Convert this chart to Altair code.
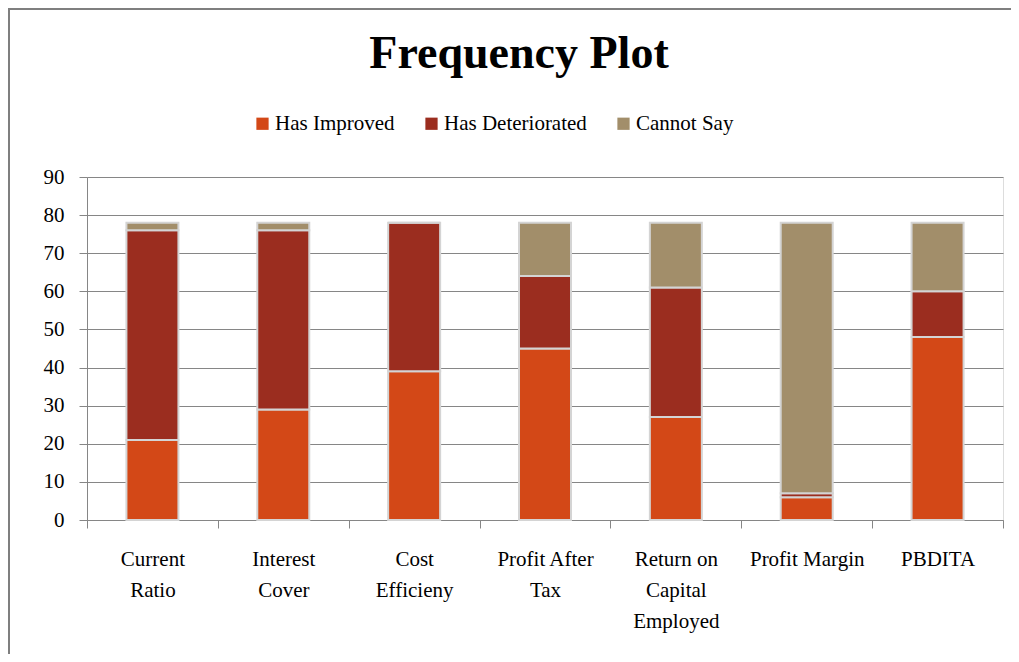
import json
import altair as alt
import pandas as pd

categories = ["Current Ratio", "Interest Cover", "Cost Efficieny", "Profit After Tax",
              "Return on Capital Employed", "Profit Margin", "PBDITA"]
label_lines = [["Current", "Ratio"], ["Interest", "Cover"], ["Cost", "Efficieny"],
               ["Profit After", "Tax"], ["Return on", "Capital", "Employed"],
               ["Profit Margin"], ["PBDITA"]]
series = ["Has Improved", "Has Deteriorated", "Cannot Say"]
has_improved = [21, 29, 39, 45, 27, 6, 48]
has_deteriorated = [55, 47, 39, 19, 34, 1, 12]
cannot_say = [2, 2, 0, 14, 17, 71, 18]
colors = ["#D34817", "#9B2D1F", "#A28E6A"]

rows = []
for vals, s_idx in ((has_improved, 0), (has_deteriorated, 1), (cannot_say, 2)):
    for c, v in zip(categories, vals):
        rows.append({"category": c, "series": series[s_idx], "order": s_idx, "value": v})
df = pd.DataFrame(rows)

label_map = json.dumps(dict(zip(categories, label_lines)))
FONT = "Liberation Serif"

bars = alt.Chart(df).mark_bar(size=52, stroke="#d4d4d4", strokeWidth=2).encode(
    x=alt.X("category:N", sort=categories, title=None,
            scale=alt.Scale(paddingInner=0, paddingOuter=0),
            axis=alt.Axis(labelAngle=0, tickBand="extent", labelExpr=f"{label_map}[datum.label]",
                          labelFont=FONT, labelFontSize=21, labelColor="#000000",
                          labelLineHeight=31, labelPadding=20, labelBaseline="top",
                          tickSize=8, tickColor="#868686", domainColor="#868686",
                          grid=False)),
    y=alt.Y("value:Q", title=None, stack="zero",
            scale=alt.Scale(domain=[0, 90], nice=False),
            axis=alt.Axis(values=list(range(0, 91, 10)), labelFont=FONT, labelFontSize=21,
                          labelColor="#000000", labelPadding=15, tickSize=8,
                          tickColor="#868686", domainColor="#868686",
                          gridColor="#868686", gridWidth=1)),
    color=alt.Color("series:N", sort=series,
                    scale=alt.Scale(domain=series, range=colors),
                    legend=alt.Legend(title=None, orient="none", direction="horizontal",
                                      legendX=165, legendY=-64, symbolType="square",
                                      symbolSize=150, symbolStrokeWidth=0,
                                      labelFont=FONT, labelFontSize=21, labelColor="#000000",
                                      columnPadding=26, labelOffset=2)),
    order=alt.Order("order:Q", sort="ascending"),
)

# outer chart frame (decoration)
frame_df = pd.DataFrame({"k": [0]})
frame_left = alt.Chart(frame_df).mark_rule(color="#7f7f7f", strokeWidth=2).encode(
    x=alt.value(-78), y=alt.value(-168), y2=alt.value(480))
frame_top = alt.Chart(frame_df).mark_rule(color="#7f7f7f", strokeWidth=2).encode(
    x=alt.value(-79), x2=alt.value(930), y=alt.value(-168))

chart = alt.layer(bars, frame_left, frame_top).properties(
    width=916, height=343,
    title=alt.TitleParams("Frequency Plot", font=FONT, fontSize=46, fontWeight="bold",
                          color="#000000", anchor="middle", dx=-26, offset=-70),
    autosize=alt.AutoSizeParams(type="none"),
    padding={"left": 79, "top": 169, "right": 8, "bottom": 134},
).configure_view(stroke=None).configure(background="#ffffff", font=FONT)

chart.save("out.html", embed_options={"renderer": "svg", "actions": False})
